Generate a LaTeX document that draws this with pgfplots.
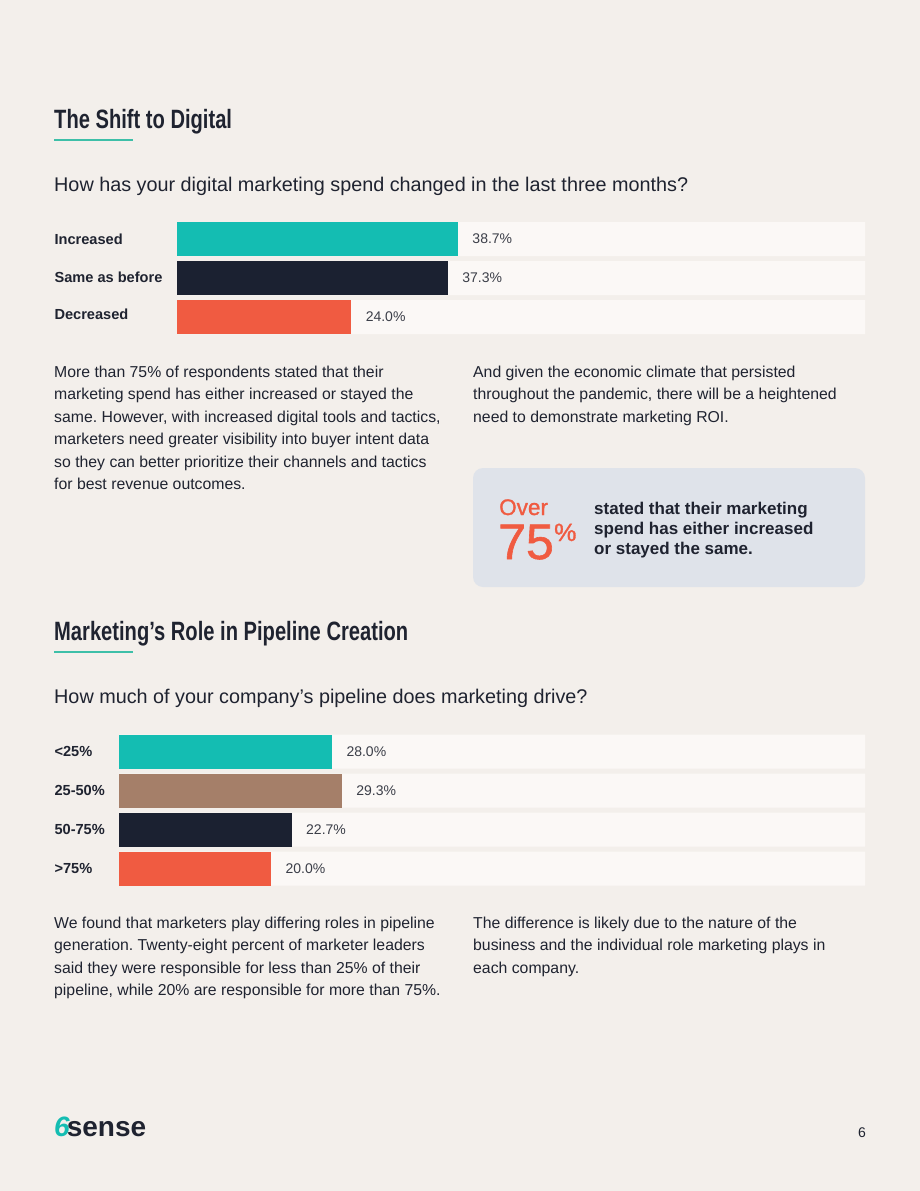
\documentclass[border=0pt]{standalone}
\usepackage{pgfplots}
\pgfplotsset{compat=1.18}
\usepackage{fontspec}
\setmainfont{Liberation Sans}
\newfontfamily\headfont[FakeStretch=0.76]{Liberation Sans}
\newfontfamily\medfont[FakeBold=1.2]{Liberation Sans}
\frenchspacing
\definecolor{bg}{HTML}{F3EFEB}
\definecolor{track}{HTML}{FBF8F6}
\definecolor{tealc}{HTML}{14BDB2}
\definecolor{navy}{HTML}{1B2131}
\definecolor{orangec}{HTML}{F05B41}
\definecolor{brownc}{HTML}{A57F69}
\definecolor{ink}{HTML}{1F2330}
\definecolor{valtext}{HTML}{3B3E48}
\definecolor{boxc}{HTML}{DFE3EA}
\definecolor{uline}{HTML}{3DBFA8}

\pgfplotsset{
  hbars/.style={
    scale only axis, xbar, bar shift=0pt, y dir=reverse,
    axis line style={draw=none}, xtick=\empty, major tick length=0pt,
    clip=false, /pgf/number format/assume math mode=true,
    yticklabel style={anchor=west, font=\bfseries\fontsize{14.6}{16}\selectfont, text=ink},
    every node near coord/.append style={anchor=west, xshift=11pt,
      font=\fontsize{14}{16}\selectfont, text=valtext},
  },
  vlabel/.style={nodes near coords={\pgfmathprintnumber[fixed,fixed zerofill,precision=1]{\pgfplotspointmeta}\%}},
}

\begin{document}
\begin{tikzpicture}[x=1pt,y=1pt]
\fill[bg] (0,0) rectangle (920,-1191);

% ---------- Section 1 ----------
\node[anchor=base west, inner sep=0, text=ink, font=\headfont\bfseries\fontsize{26.5}{30}\selectfont] at (54,-128) {The Shift to Digital};
\draw[uline, line width=1.2pt] (54,-140) -- (133,-140);
\node[anchor=base west, inner sep=0, text=ink, font=\fontsize{19.8}{22}\selectfont] at (54,-191) {How has your digital marketing spend changed in the last three months?};

\begin{axis}[hbars, at={(177pt,-219.5pt)}, anchor=north west,
  width=688pt, height=117pt, xmin=0, xmax=94.77, ymin=-0.5, ymax=2.5,
  bar width=34pt, ytick={0,1,2},
  yticklabels={Increased,\raisebox{2pt}{Same as before},\raisebox{6pt}{Decreased}},
  yticklabel style={xshift=-126pt}]
\addplot[fill=track, draw=none] coordinates {(94.77,0) (94.77,1) (94.77,2)};
\addplot[fill=tealc, draw=none, vlabel] coordinates {(38.7,0)};
\addplot[fill=navy, draw=none, vlabel] coordinates {(37.3,1)};
\addplot[fill=orangec, draw=none, vlabel] coordinates {(24.0,2)};
\end{axis}

\begin{scope}[every node/.style={anchor=base west, inner sep=0, text=ink, font=\fontsize{15.8}{22}\selectfont}]
\node at (54,-377) {More than 75\% of respondents stated that their};
\node at (54,-399.5) {marketing spend has either increased or stayed the};
\node at (54,-422) {same. However, with increased digital tools and tactics,};
\node at (54,-444.5) {marketers need greater visibility into buyer intent data};
\node at (54,-467) {so they can better prioritize their channels and tactics};
\node at (54,-489.5) {for best revenue outcomes.};
\node at (473,-377) {And given the economic climate that persisted};
\node at (473,-399.5) {throughout the pandemic, there will be a heightened};
\node at (473,-422) {need to demonstrate marketing ROI.};
\end{scope}

% callout
\fill[boxc, rounded corners=10pt] (473,-468) rectangle (865,-587);
\node[anchor=base west, inner sep=0, text=orangec, font=\medfont\fontsize{22.5}{24}\selectfont] at (499,-515) {Over};
\node[anchor=base west, inner sep=0, text=orangec, font=\medfont\fontsize{50}{52}\selectfont] at (498,-559) {75};
\node[anchor=base west, inner sep=0, text=orangec, font=\medfont\fontsize{25}{26}\selectfont] at (554,-541) {\%};
\begin{scope}[every node/.style={anchor=base west, inner sep=0, text=ink, font=\bfseries\fontsize{17}{20}\selectfont}]
\node at (594,-514) {stated that their marketing};
\node at (594,-534) {spend has either increased};
\node at (594,-554) {or stayed the same.};
\end{scope}

% ---------- Section 2 ----------
\node[anchor=base west, inner sep=0, text=ink, font=\headfont\bfseries\fontsize{26.5}{30}\selectfont] at (54,-640) {Marketing’s Role in Pipeline Creation};
\draw[uline, line width=1.2pt] (54,-652) -- (133,-652);
\node[anchor=base west, inner sep=0, text=ink, font=\fontsize{19.8}{22}\selectfont] at (54,-703) {How much of your company’s pipeline does marketing drive?};

\begin{axis}[hbars, at={(119pt,-732pt)}, anchor=north west,
  width=746pt, height=156pt, xmin=0, xmax=98.07, ymin=-0.5, ymax=3.5,
  bar width=34pt, ytick={0,1,2,3},
  yticklabels={<25\%,25-50\%,50-75\%,>75\%},
  yticklabel style={xshift=-68pt}]
\addplot[fill=track, draw=none] coordinates {(98.07,0) (98.07,1) (98.07,2) (98.07,3)};
\addplot[fill=tealc, draw=none, vlabel] coordinates {(28.0,0)};
\addplot[fill=brownc, draw=none, vlabel] coordinates {(29.3,1)};
\addplot[fill=navy, draw=none, vlabel] coordinates {(22.7,2)};
\addplot[fill=orangec, draw=none, vlabel] coordinates {(20.0,3)};
\end{axis}

\begin{scope}[every node/.style={anchor=base west, inner sep=0, text=ink, font=\fontsize{15.8}{22}\selectfont}]
\node at (54,-928) {We found that marketers play differing roles in pipeline};
\node at (54,-950.5) {generation. Twenty-eight percent of marketer leaders};
\node at (54,-973) {said they were responsible for less than 25\% of their};
\node at (54,-995.5) {pipeline, while 20\% are responsible for more than 75\%.};
\node at (473,-928) {The difference is likely due to the nature of the};
\node at (473,-950.5) {business and the individual role marketing plays in};
\node at (473,-973) {each company.};
\end{scope}

% footer
\node[anchor=base west, inner sep=0, font=\bfseries\fontsize{28}{30}\selectfont] at (54,-1136) {\textcolor{tealc}{\itshape 6}\kern-3pt\textcolor{ink}{sense}};
\node[anchor=base east, inner sep=0, text=ink, font=\fontsize{14}{16}\selectfont] at (866,-1137) {6};
\end{tikzpicture}
\end{document}
